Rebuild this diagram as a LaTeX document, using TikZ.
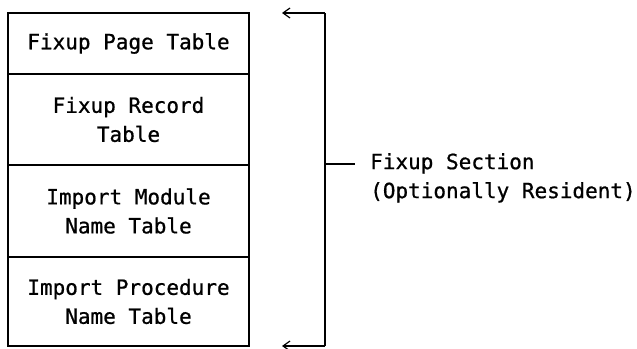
\documentclass[tikz,border=0pt]{standalone}
\usepackage{fontspec}
\setmonofont[FakeBold=0.8]{DejaVu Sans Mono}
\usetikzlibrary{arrows.meta,positioning}
\tikzset{
  tablebox/.style={draw, line width=1.2pt, rectangle, inner sep=0pt, outer sep=0pt,
    minimum width=241pt, align=center, font=\ttfamily\fontsize{21}{29}\selectfont},
  bracket/.style={line width=1.2pt},
  barb/.style={bracket, -{Straight Barb[length=7pt, width=10pt, line width=1.2pt]}},
  label text/.style={align=left, inner sep=0pt, font=\ttfamily\fontsize{21}{29}\selectfont},
}
\begin{document}
\begin{tikzpicture}[x=1pt, y=1pt]
  \useasboundingbox (0,0) rectangle (637,348);

  % Stack of tables
  \node[tablebox, minimum height=61pt, anchor=north west] (page) at (8,335) {Fixup Page Table};
  \node[tablebox, minimum height=91pt, below=0pt of page] (record) {Fixup Record\\Table};
  \node[tablebox, minimum height=92pt, below=0pt of record] (module) {Import Module\\Name Table};
  \node[tablebox, minimum height=89pt, below=0pt of module] (proc) {Import Procedure\\Name Table};

  % Bracket
  \coordinate (top tip) at (282,335);
  \coordinate (top corner) at (325,335);
  \coordinate (bottom corner) at (325,2);
  \coordinate (bottom tip) at (282,2);
  \coordinate (mid) at (325,184);
  \coordinate (tick end) at (355,184);
  \draw[bracket] (top corner) -- (bottom corner);
  \draw[barb] (top corner) -- (top tip);
  \draw[barb] (bottom corner) -- (bottom tip);
  \draw[bracket] (mid) -- (tick end);

  % Section label
  \node[label text, anchor=north west] (section) at ([xshift=15pt, yshift=11pt]tick end)
    {Fixup Section\\(Optionally Resident)};
\end{tikzpicture}
\end{document}
